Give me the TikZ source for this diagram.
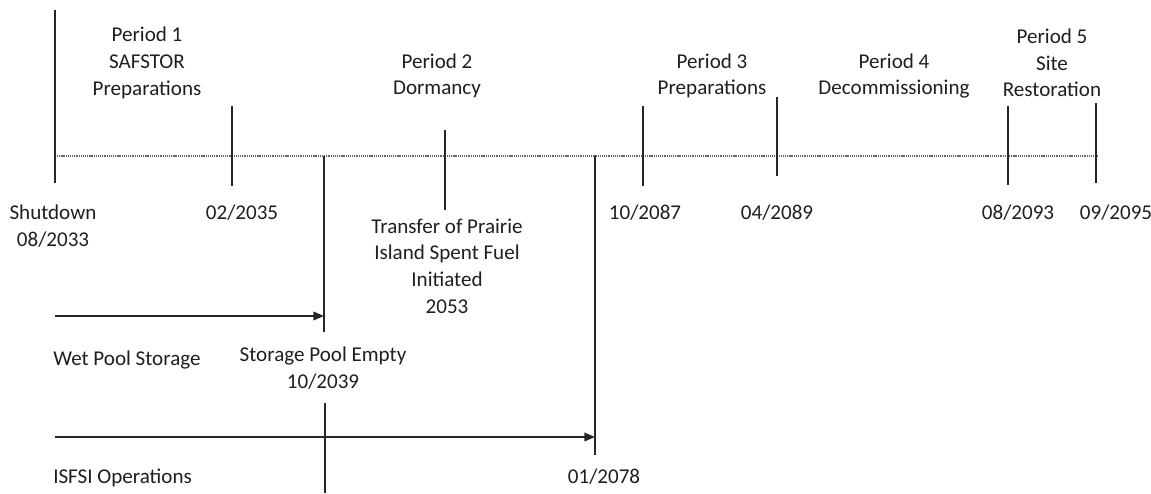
\documentclass[tikz,border=0pt]{standalone}
\usepackage{fontspec}
\setmainfont{Carlito}
\usetikzlibrary{arrows.meta}
\begin{document}
\begin{tikzpicture}[x=0.75pt,y=-0.75pt,
  lbl/.style={font=\fontsize{15.8}{20}\selectfont, align=center, inner sep=0pt, text=black!88},
  tickline/.style={line width=1.4pt, black!85},
  arr/.style={line width=1.1pt, black!85, -{Triangle[length=8pt,width=6.5pt]}},
  timeline/.style={line width=0.9pt, gray!80!black, dash pattern=on 0.8pt off 0.6pt}]
\useasboundingbox (0,0) rectangle (1151,493);
% timeline
\coordinate (tlstart) at (55,156);
\coordinate (tlend) at (1097,156);
\draw[timeline] (tlstart) -- (tlend);
% ticks
\coordinate (a1) at (55,10);   \coordinate (a2) at (55,183);
\coordinate (b1) at (232,106); \coordinate (b2) at (232,186);
\coordinate (c1) at (445,130); \coordinate (c2) at (445,210);
\coordinate (d1) at (643,106); \coordinate (d2) at (643,186);
\coordinate (e1) at (777,97);  \coordinate (e2) at (777,176);
\coordinate (f1) at (1008,106); \coordinate (f2) at (1008,185);
\coordinate (g1) at (1096,103); \coordinate (g2) at (1096,183);
\coordinate (sp1) at (324,156); \coordinate (sp2) at (324,332);
\coordinate (sp3) at (325,403); \coordinate (sp4) at (325,493);
\coordinate (is1) at (595,156); \coordinate (is2) at (595,455);
\foreach \p/\q in {a1/a2,b1/b2,c1/c2,d1/d2,e1/e2,f1/f2,g1/g2,sp1/sp2,sp3/sp4,is1/is2}
  \draw[tickline] (\p) -- (\q);
% arrows
\coordinate (w0) at (55,316); \coordinate (w1) at (324,316);
\coordinate (i0) at (55,437); \coordinate (i1) at (595,437);
\draw[arr] (w0) -- (w1);
\draw[arr] (i0) -- (i1);
% period labels
\node[lbl] (p1) at (147,63) {Period 1\\SAFSTOR\\Preparations};
\node[lbl] (p2) at (437,76) {Period 2\\Dormancy};
\node[lbl] (p3) at (712,76) {Period 3\\Preparations};
\node[lbl] (p4) at (894,76) {Period 4\\Decommissioning};
\node[lbl] (p5) at (1052,63) {Period 5\\Site\\Restoration};
% dates
\node[lbl] (shut) at (53,226) {Shutdown\\08/2033};
\node[lbl] (d2035) at (242,213) {02/2035};
\node[lbl] (d2087) at (645,213) {10/2087};
\node[lbl] (d2089) at (777,213) {04/2089};
\node[lbl] (d2093) at (1018,213) {08/2093};
\node[lbl] (d2095) at (1116,213) {09/2095};
\node[lbl] (transfer) at (447,266) {Transfer of Prairie\\Island Spent Fuel\\Initiated\\2053};
\node[lbl, anchor=west] (wet) at (53,360) {Wet Pool Storage};
\node[lbl] (spe) at (323,368) {Storage Pool Empty\\10/2039};
\node[lbl, anchor=west] (isfsi) at (53,478) {ISFSI Operations};
\node[lbl] (d2078) at (604,477) {01/2078};
\end{tikzpicture}
\end{document}
